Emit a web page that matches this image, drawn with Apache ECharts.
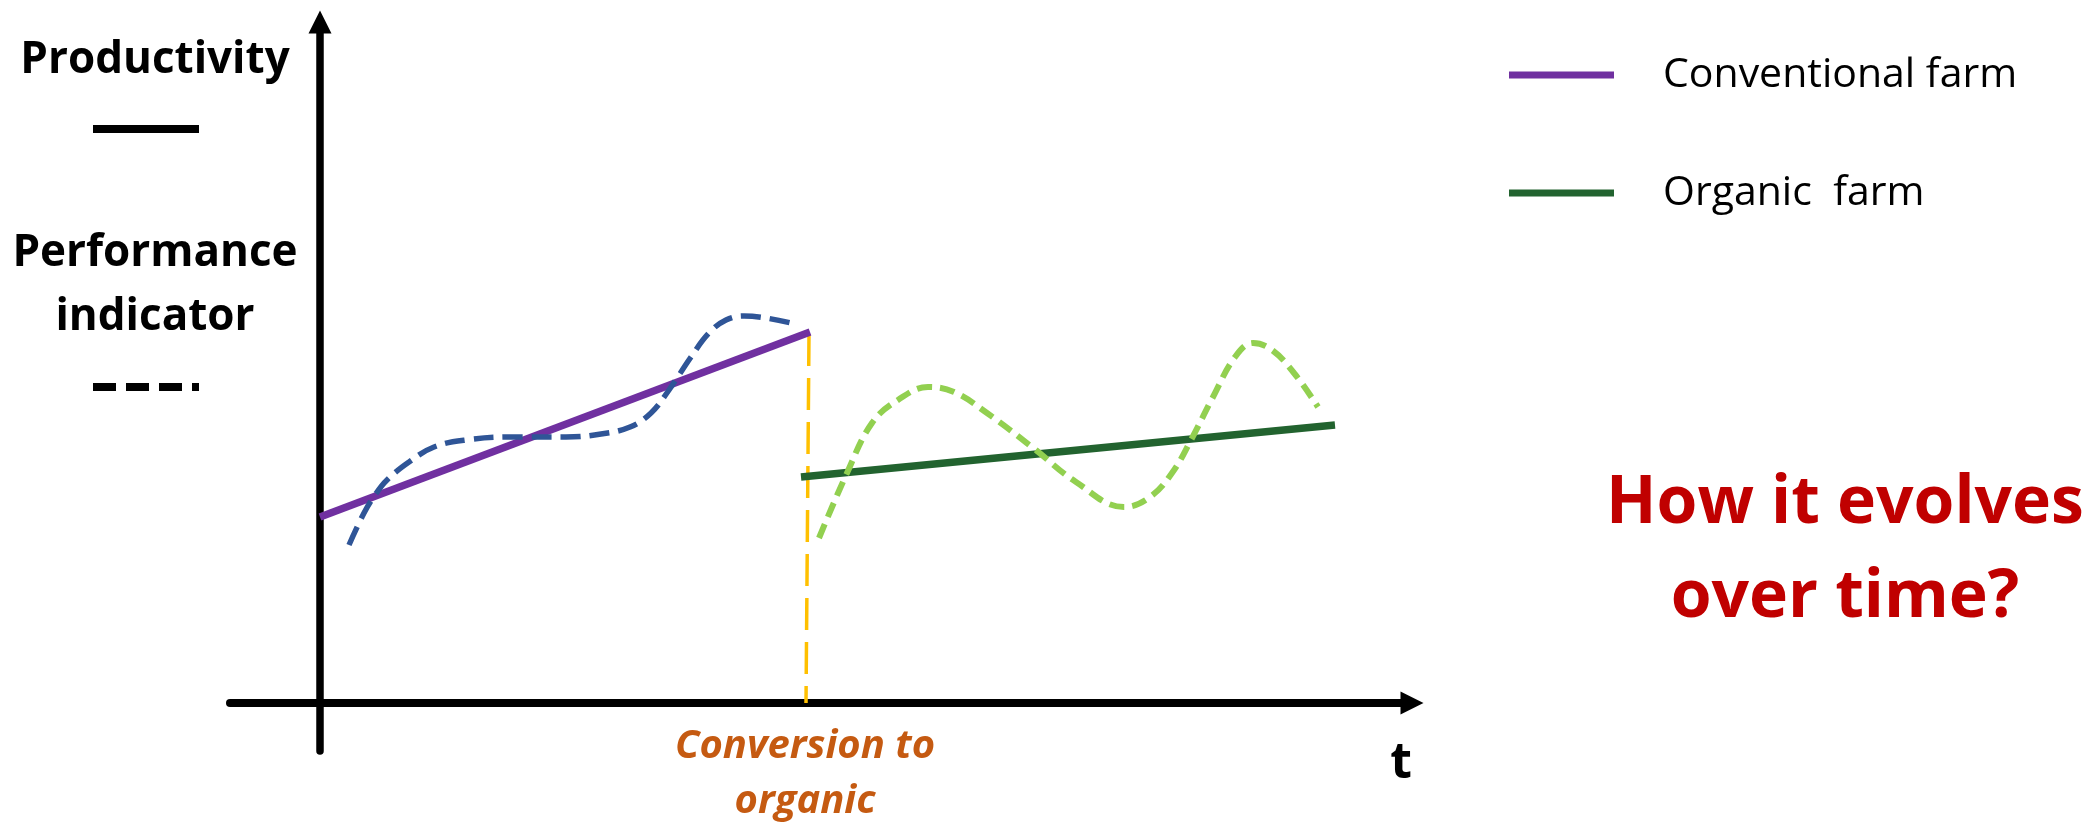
<!DOCTYPE html>
<html>
<head>
<meta charset="utf-8">
<script src="https://cdn.jsdelivr.net/npm/echarts@6/dist/echarts.min.js"></script>
<style>
  html, body { margin: 0; padding: 0; background: #ffffff; }
  #chart { width: 2093px; height: 822px; }
</style>
</head>
<body>
<div id="chart"></div>
<script>
// ---- data (x = time units, y = level units) ----
const seriesNames = ['Conventional farm', 'Organic  farm'];
const conventionalFarm = [[0, 18.6], [49.0, 37.1]];
const organicFarm = [[48.1, 22.6], [101.5, 27.8]];
const conventionalIndicator = [
  [2.9, 15.8], [4.4, 19.0], [5.5, 20.8], [6.7, 22.3], [8.9, 24.1], [11.4, 25.6],
  [14.6, 26.3], [19.2, 26.6], [24.6, 26.6], [28.1, 26.9], [31.0, 27.6], [33.1, 29.0],
  [34.9, 31.3], [37.1, 34.6], [38.9, 37.0], [40.6, 38.3], [42.4, 38.7], [44.6, 38.5], [47.1, 38.0]
];
const organicIndicator = [
  [49.9, 16.5], [52.7, 23.0], [55.2, 28.0], [57.8, 30.3], [60.8, 31.6], [63.4, 31.1],
  [66.7, 29.0], [71.2, 25.6], [75.6, 22.1], [80.4, 19.6], [83.0, 20.6], [85.2, 23.0],
  [87.1, 26.3], [89.3, 30.6], [91.5, 34.6], [93.3, 36.0], [95.2, 35.3], [97.4, 33.0], [99.8, 29.6]
];
const conversionMarker = [[48.9, 36.9], [48.6, 0]];
const axisRangeX = [-9, 109.2];
const axisRangeY = [-4.8, 68.1];
const yAxisLabelTop = 'Productivity';
const yAxisLabelBottom = 'Performance\nindicator';
const xAxisLabel = 't';
const conversionLabel = 'Conversion to\norganic';
const questionLabel = 'How it evolves\nover time?';

const FONT = 'Open Sans';
const chart = echarts.init(document.getElementById('chart'), null, { renderer: 'canvas' });

const option = {
  animation: false,
  backgroundColor: '#ffffff',
  grid: { left: 230, right: 681, top: 22, bottom: 71, containLabel: false },
  xAxis: {
    type: 'value', min: axisRangeX[0], max: axisRangeX[1],
    axisLine: { show: true, onZero: true, symbol: ['none', 'triangle'], symbolSize: [23, 23],
      lineStyle: { color: '#000000', width: 8 } },
    axisTick: { show: false }, axisLabel: { show: false }, splitLine: { show: false }
  },
  yAxis: {
    type: 'value', min: axisRangeY[0], max: axisRangeY[1],
    axisLine: { show: true, onZero: true, symbol: ['none', 'triangle'], symbolSize: [23, 23],
      lineStyle: { color: '#000000', width: 7.5 } },
    axisTick: { show: false }, axisLabel: { show: false }, splitLine: { show: false }
  },
  legend: {
    data: seriesNames,
    orient: 'vertical', left: 1504, top: 45,
    icon: 'rect', itemWidth: 105, itemHeight: 7, itemGap: 68,
    selectedMode: false,
    textStyle: { fontFamily: FONT, fontSize: 41, color: '#000000', lineHeight: 50, padding: [0, 0, 0, 44] }
  },
  series: [
    {
      name: 'conversion', type: 'line', data: conversionMarker, symbol: 'none', z: 2,
      lineStyle: { color: '#FFC000', width: 3.5, type: [32, 12] }
    },
    {
      name: seriesNames[0], type: 'line', data: conventionalFarm, symbol: 'none', z: 3,
      color: '#7030A0', itemStyle: { color: '#7030A0' },
      lineStyle: { color: '#7030A0', width: 7.5 }
    },
    {
      name: seriesNames[1], type: 'line', data: organicFarm, symbol: 'none', z: 3,
      color: '#22632F', itemStyle: { color: '#22632F' },
      lineStyle: { color: '#22632F', width: 7.5 }
    },
    {
      name: 'Conventional indicator', type: 'line', data: conventionalIndicator, symbol: 'none', z: 4,
      smooth: 0.4,
      lineStyle: { color: '#2F5597', width: 5.5, type: [20, 9] }
    },
    {
      name: 'Organic indicator', type: 'line', data: organicIndicator, symbol: 'none', z: 4,
      smooth: 0.4,
      lineStyle: { color: '#92D050', width: 6, type: [15, 8] }
    }
  ],
  graphic: [
    { type: 'text', x: 155, y: 60, style: { text: yAxisLabelTop, fontFamily: FONT, fontWeight: 'bold', fontSize: 44,
        fill: '#000000', align: 'center', verticalAlign: 'middle' } },
    { type: 'line', shape: { x1: 93, y1: 129, x2: 199, y2: 129 }, style: { stroke: '#000000', lineWidth: 8 } },
    { type: 'text', x: 155, y: 285, style: { text: yAxisLabelBottom, fontFamily: FONT, fontWeight: 'bold', fontSize: 44,
        lineHeight: 64, fill: '#000000', align: 'center', verticalAlign: 'middle' } },
    { type: 'line', shape: { x1: 93, y1: 387, x2: 199, y2: 387 }, style: { stroke: '#000000', lineWidth: 8, lineDash: [23, 10] } },
    { type: 'text', x: 1401, y: 764, style: { text: xAxisLabel, fontFamily: FONT, fontWeight: 'bold', fontSize: 50,
        fill: '#000000', align: 'center', verticalAlign: 'middle' } },
    { type: 'text', x: 805, y: 774, style: { text: conversionLabel, fontFamily: FONT, fontWeight: 'bold', fontStyle: 'italic',
        fontSize: 40, lineHeight: 55, fill: '#C55A11', align: 'center', verticalAlign: 'middle' } },
    { type: 'text', x: 1845, y: 551, style: { text: questionLabel, fontFamily: FONT, fontWeight: 'bold', fontSize: 66,
        lineHeight: 94, fill: '#C00000', align: 'center', verticalAlign: 'middle' } }
  ]
};
chart.setOption(option);
</script>
</body>
</html>
